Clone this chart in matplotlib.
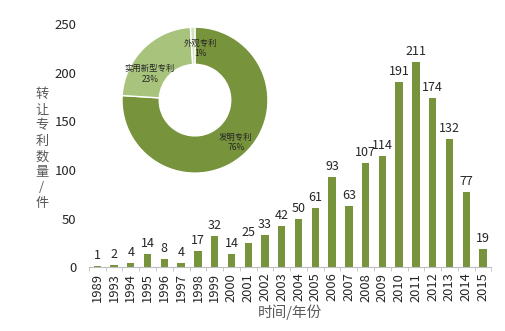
import matplotlib.pyplot as plt
import numpy as np

plt.rcParams['font.family'] = ['Noto Sans CJK SC', 'DejaVu Sans']

jahre = ['1989', '1993', '1994', '1995', '1996', '1997', '1998', '1999', '2000',
         '2001', '2002', '2003', '2004', '2005', '2006', '2007', '2008', '2009',
         '2010', '2011', '2012', '2013', '2014', '2015']
anzahl = [1, 2, 4, 14, 8, 4, 17, 32, 14, 25, 33, 42, 50, 61, 93, 63, 107, 114,
          191, 211, 174, 132, 77, 19]

pie_labels = ['发明专利', '实用新型专利', '外观专利']
pie_werte = [76, 23, 1]
pie_farben = ['#77933C', '#A8C47C', '#D5E2BC']

grau = '#595959'

fig = plt.figure(figsize=(5.05, 3.31), dpi=100)
ax = fig.add_axes([0.176, 0.193, 0.797, 0.734])

x = np.arange(len(jahre))
ax.bar(x, anzahl, width=0.44, color='#77933C')
for xi, v in zip(x, anzahl):
    ax.text(xi, v + 4, str(v), ha='center', va='bottom', fontsize=9, color='#262626')

ax.set_xlim(-0.5, len(jahre) - 0.5)
ax.set_ylim(0, 250)
ax.set_yticks([0, 50, 100, 150, 200, 250])
ax.set_xticks(x)
ax.set_xticklabels(jahre, rotation=90, fontsize=9.3, color='#262626')
ax.set_xticks(np.arange(len(jahre) + 1) - 0.5, minor=True)
ax.tick_params(axis='x', which='major', length=0, pad=4)
ax.tick_params(axis='x', which='minor', length=3, color='#bfbfbf')
ax.tick_params(axis='y', length=0, labelsize=9.5, labelcolor='#262626', pad=9)
for s in ['top', 'right', 'left']:
    ax.spines[s].set_visible(False)
ax.spines['bottom'].set_color('#bfbfbf')

ax.set_xlabel('时间/年份', fontsize=10.5, color=grau, labelpad=2)
fig.text(0.083, 0.55, '\n'.join('转让专利数量/件'), ha='center', va='center',
         fontsize=9.5, color=grau, linespacing=1.25)

# Torte oben links
pax = fig.add_axes([0.2416, 0.477, 0.289, 0.441])
pax.pie(pie_werte, colors=pie_farben, startangle=90, counterclock=False,
        wedgeprops=dict(width=0.51, edgecolor='white', linewidth=1))
pax.set_xlim(-1, 1)
pax.set_ylim(-1, 1)
pax.set_aspect('equal')
pos = [(0.56, -0.58), (-0.62, 0.36), (0.07, 0.71)]
for (px, py), lab, w in zip(pos, pie_labels, pie_werte):
    pax.text(px, py, f'{lab}\n{w}%', ha='center', va='center', fontsize=6,
             color='#262626', linespacing=1.2)

fig.savefig('out.png', dpi=100)
